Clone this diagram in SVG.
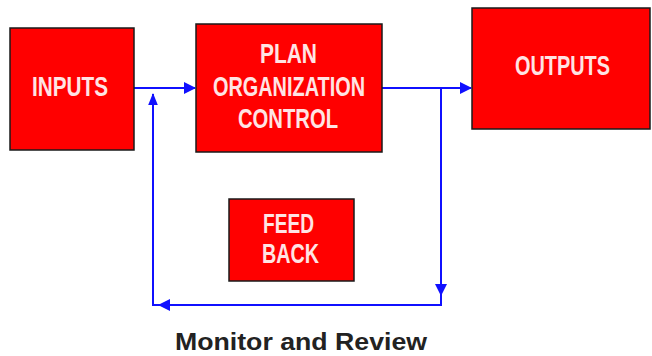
<svg xmlns="http://www.w3.org/2000/svg" xmlns:xlink="http://www.w3.org/1999/xlink" width="652" height="356" viewBox="0 0 652 356">
<style>
.box{fill:#ff0000;stroke:#1a1a1a;stroke-width:1.5}
.lbl{font-family:"Liberation Sans",Arial,sans-serif;font-size:28px;font-weight:bold;fill:#ffe4e4}
.wire{fill:none;stroke:#1010ff;stroke-width:2}
.cap{font-family:"Liberation Sans",Arial,sans-serif;font-size:24px;font-weight:bold;fill:#222}
</style>
<defs>
<path id="ah" d="M0,0 L-12,-6 L-12,6 Z" fill="#1010ff"/>
</defs>
<rect width="652" height="356" fill="#ffffff"/>
<g id="connectors">
<line class="wire" x1="134" y1="88" x2="195" y2="88"/>
<use xlink:href="#ah" transform="translate(196,88)"/>
<line class="wire" x1="382" y1="88" x2="471" y2="88"/>
<use xlink:href="#ah" transform="translate(472,88)"/>
<polyline class="wire" points="441,88 441,305 153,305 153,94"/>
<use xlink:href="#ah" transform="translate(441,296) rotate(90)"/>
<use xlink:href="#ah" transform="translate(158,305) rotate(180)"/>
<use xlink:href="#ah" transform="translate(153,93) rotate(-90) scale(1,0.8)"/>
</g>
<g id="inputs">
<rect class="box" x="10" y="28" width="124" height="122"/>
<text class="lbl" x="32" y="96" textLength="76" lengthAdjust="spacingAndGlyphs">INPUTS</text>
</g>
<g id="plan">
<rect class="box" x="196" y="24" width="186" height="128"/>
<text class="lbl" x="260" y="63" textLength="57" lengthAdjust="spacingAndGlyphs">PLAN</text>
<text class="lbl" x="213" y="96" textLength="152" lengthAdjust="spacingAndGlyphs">ORGANIZATION</text>
<text class="lbl" x="238" y="128" textLength="100" lengthAdjust="spacingAndGlyphs">CONTROL</text>
</g>
<g id="outputs">
<rect class="box" x="472" y="8" width="178" height="121"/>
<text class="lbl" x="515" y="75" textLength="95" lengthAdjust="spacingAndGlyphs">OUTPUTS</text>
</g>
<g id="feedback">
<rect class="box" x="229" y="199" width="125" height="82"/>
<text class="lbl" x="263" y="233" textLength="51" lengthAdjust="spacingAndGlyphs">FEED</text>
<text class="lbl" x="262" y="263" textLength="57" lengthAdjust="spacingAndGlyphs">BACK</text>
</g>
<text class="cap" x="175" y="350" textLength="252" lengthAdjust="spacingAndGlyphs">Monitor and Review</text>
</svg>
